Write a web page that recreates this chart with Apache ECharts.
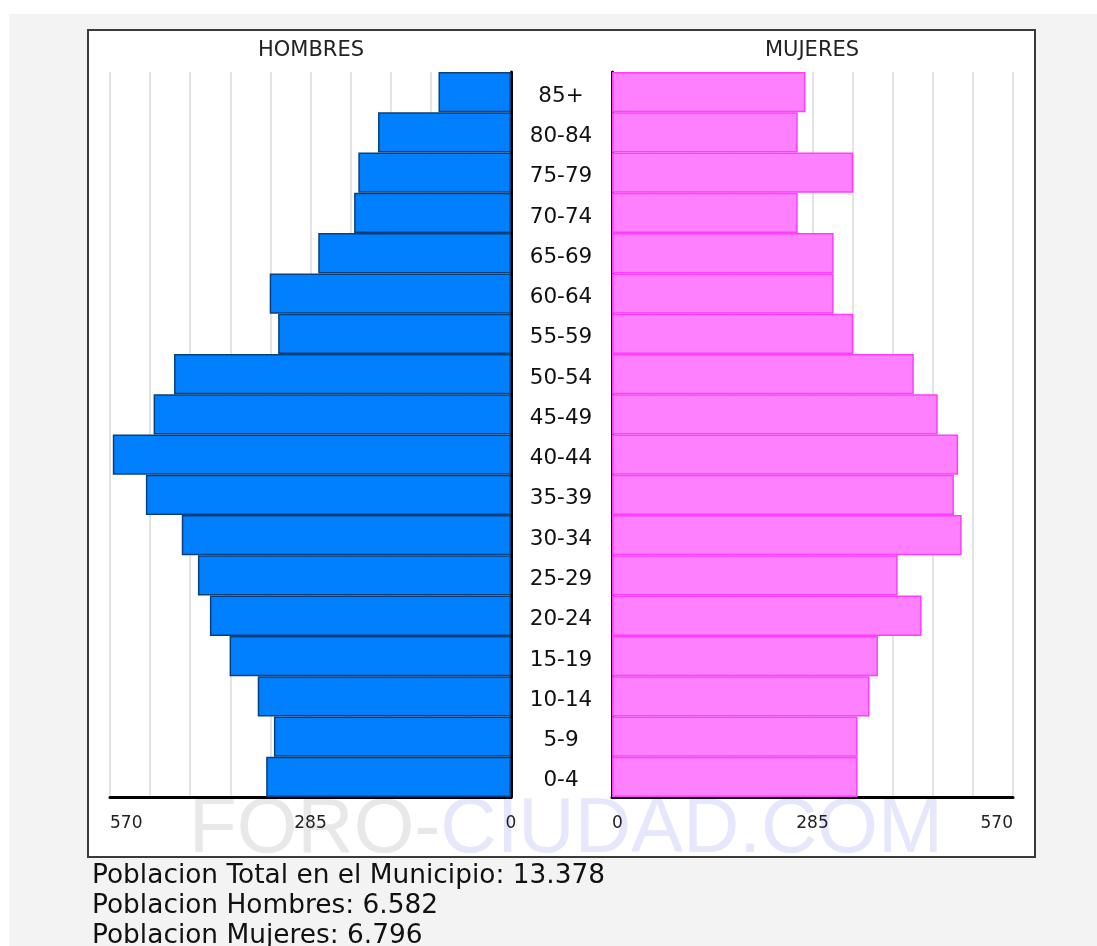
<!DOCTYPE html>
<html>
<head>
<meta charset="utf-8">
<script src="https://cdn.jsdelivr.net/npm/echarts@6/dist/echarts.min.js"></script>
<style>
html,body{margin:0;padding:0;background:#ffffff;}
#chart{width:1097px;height:946px;}
</style>
</head>
<body>
<div id="chart"></div>
<script>
// Age groups, bottom to top
const categories = ['0-4','5-9','10-14','15-19','20-24','25-29','30-34','35-39','40-44','45-49','50-54','55-59','60-64','65-69','70-74','75-79','80-84','85+'];
const hombres = [348, 337, 360, 400, 428, 445, 468, 519, 566, 508, 479, 331, 343, 274, 223, 217, 189, 103];
const mujeres = [349, 349, 366, 378, 440, 406, 497, 486, 492, 463, 429, 343, 315, 315, 264, 343, 264, 275];
const axisMax = 570;
const axisStep = 57;
const shownTicks = [0, 285, 570];
const titles = ['HOMBRES', 'MUJERES'];
const summaryLines = [
  'Poblacion Total en el Municipio: 13.378',
  'Poblacion Hombres: 6.582',
  'Poblacion Mujeres: 6.796'
];

const FONT = '"DejaVu Sans", Verdana, sans-serif';
const chart = echarts.init(document.getElementById('chart'), null, {renderer: 'canvas'});

function tickFmt(v) { return shownTicks.indexOf(v) >= 0 ? String(v) : ''; }

const commonX = {
  type: 'value', min: 0, max: axisMax, interval: axisStep,
  splitLine: {show: true, lineStyle: {color: '#e3e3e3', width: 2}},
  axisLine: {show: true, lineStyle: {color: '#000', width: 3}},
  axisTick: {show: false},
  axisLabel: {formatter: tickFmt, fontSize: 17, fontFamily: FONT, color: '#222', margin: 18, showMinLabel: true, showMaxLabel: true}
};

const option = {
  animation: false,
  backgroundColor: '#ffffff',
  graphic: [
    {type: 'rect', z: -30, shape: {x: 9, y: 14, width: 1100, height: 940}, style: {fill: '#f3f3f3'}},
    {type: 'rect', z: -20, shape: {x: 88, y: 30, width: 947, height: 827}, style: {fill: '#ffffff', stroke: '#3a3a3a', lineWidth: 2}},
    {type: 'text', z: -10, x: 566, y: 830, style: {
      text: '{a|FORO-}{b|CIUDAD.COM}', align: 'center', verticalAlign: 'middle',
      textAlign: 'center', textVerticalAlign: 'middle',
      rich: {
        a: {fill: '#e8e8e8', font: '78px "Liberation Sans", Arial, sans-serif'},
        b: {fill: '#e6e6fd', font: '78px "Liberation Sans", Arial, sans-serif'}
      }
    }},
    {type: 'text', x: 311, y: 51, style: {text: titles[0], font: '21px ' + FONT, fill: '#222', align: 'center', verticalAlign: 'middle', textAlign: 'center', textVerticalAlign: 'middle'}},
    {type: 'text', x: 812, y: 51, style: {text: titles[1], font: '21px ' + FONT, fill: '#222', align: 'center', verticalAlign: 'middle', textAlign: 'center', textVerticalAlign: 'middle'}},
    {type: 'text', x: 92, y: 876, style: {text: summaryLines[0], font: '26.4px ' + FONT, fill: '#111', verticalAlign: 'middle', textVerticalAlign: 'middle'}},
    {type: 'text', x: 92, y: 906, style: {text: summaryLines[1], font: '26.4px ' + FONT, fill: '#111', verticalAlign: 'middle', textVerticalAlign: 'middle'}},
    {type: 'text', x: 92, y: 936, style: {text: summaryLines[2], font: '26.4px ' + FONT, fill: '#111', verticalAlign: 'middle', textVerticalAlign: 'middle'}}
  ],
  grid: [
    {left: 110, right: 1097 - 511, top: 72, bottom: 946 - 797, containLabel: false},
    {left: 612, right: 1097 - 1013, top: 72, bottom: 946 - 797, containLabel: false}
  ],
  xAxis: [
    Object.assign({}, commonX, {gridIndex: 0, inverse: true,
      axisLabel: Object.assign({}, commonX.axisLabel, {alignMaxLabel: 'left', alignMinLabel: 'center'})}),
    Object.assign({}, commonX, {gridIndex: 1,
      axisLabel: Object.assign({}, commonX.axisLabel, {alignMinLabel: 'left', alignMaxLabel: 'right'})})
  ],
  yAxis: [
    {type: 'category', gridIndex: 0, data: categories, position: 'right',
      axisLine: {show: true, lineStyle: {color: '#000', width: 3}},
      axisTick: {show: false}, splitLine: {show: false},
      axisLabel: {align: 'center', margin: 50, interval: 0,
        formatter: function (v) { return '{c|' + v + '}'; },
        rich: {c: {fontSize: 21.5, fontFamily: FONT, color: '#111', padding: [8, 0, 0, 0]}}}},
    {type: 'category', gridIndex: 1, data: categories, position: 'left',
      axisLine: {show: true, lineStyle: {color: '#000', width: 3}},
      axisTick: {show: false}, splitLine: {show: false},
      axisLabel: {show: false}}
  ],
  series: [
    {type: 'bar', name: 'Hombres', xAxisIndex: 0, yAxisIndex: 0, data: hombres,
      barCategoryGap: '0%', z: 3,
      itemStyle: {color: '#0080ff', borderColor: '#0a3f78', borderWidth: 1.5}},
    {type: 'bar', name: 'Mujeres', xAxisIndex: 1, yAxisIndex: 1, data: mujeres,
      barCategoryGap: '0%', z: 3,
      itemStyle: {color: '#ff80ff', borderColor: '#ff3cff', borderWidth: 1.5}}
  ]
};
chart.setOption(option);
</script>
</body>
</html>
